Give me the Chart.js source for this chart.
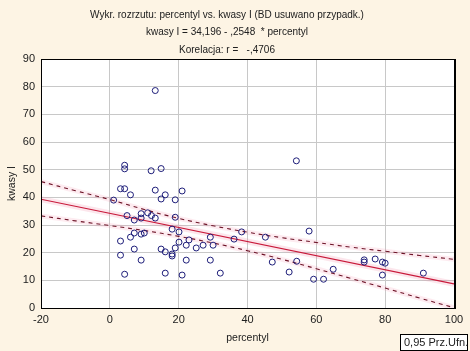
<!DOCTYPE html>
<html>
<head>
<meta charset="utf-8">
<script src="https://cdn.jsdelivr.net/npm/chart.js@4.4.1/dist/chart.umd.min.js"></script>
<style>
  body { margin: 0; background: #fdf4e4; }
  #wrap { width: 470px; height: 351px; position: relative; }
</style>
</head>
<body>
<div id="wrap"><canvas id="scatterChart" width="470" height="351"></canvas></div>
<script>
//=====================================
// dane
//=====================================
var percentyl = [1.1, 3.1, 4.3, 6.0, 4.3, 4.3, 12.0, 14.9, 13.2, 13.2, 14.9, 16.1, 19.0, 21.0,
                 5.0, 7.1, 9.1, 9.1, 11.0, 12.1, 13.2, 19.0, 18.1, 20.1, 20.1, 23.0, 22.2, 25.1,
                 27.1, 29.2, 30.0, 29.2, 32.1, 21.0, 22.2, 16.1, 16.1, 14.9, 18.1, 18.1, 19.0,
                 7.1, 9.1, 4.3, 3.1, 3.1, 6.0, 7.1, 9.1, 10.0, 36.1, 38.3, 45.2, 47.2, 52.1,
                 54.3, 57.9, 59.2, 62.1, 64.9, 73.9, 73.9, 77.1, 79.2, 80.0, 79.2, 91.1, 54.2];
var kwasy = [39.0, 43.1, 43.1, 40.9, 51.6, 50.3, 49.6, 50.4, 78.6, 42.6, 39.4, 40.9, 39.1, 42.3,
             33.4, 31.8, 34.1, 32.5, 34.4, 33.4, 32.5, 32.8, 28.5, 27.5, 23.8, 24.6, 22.7, 21.7,
             22.7, 25.6, 22.7, 17.3, 12.6, 11.9, 17.3, 12.6, 20.3, 21.3, 19.5, 18.8, 21.7,
             21.3, 17.3, 12.2, 19.1, 24.2, 25.6, 27.1, 26.7, 27.1, 24.9, 27.5, 25.6, 16.6, 13.0,
             16.9, 27.8, 10.4, 10.4, 14.0, 17.4, 16.6, 17.7, 16.6, 16.2, 11.9, 12.6, 53.2];

// linia regresji: kwasy I = 34,196 - ,2548 * percentyl
var fitX = [-20, 100];
var fitY = [39.3, 8.7];

// przedział ufności 0,95
var bandX  = [-20, -10, 0, 10, 20, 30, 40, 50, 60, 70, 80, 90, 100];
var bandUp = [45.7, 42.4, 39.2, 35.6, 32.4, 29.7, 27.4, 25.4, 23.7, 22.0, 20.5, 19.0, 17.6];
var bandLo = [33.3, 31.5, 29.8, 28.0, 25.9, 23.5, 20.7, 17.6, 14.2, 10.7, 7.2, 3.6, 0.1];

var xTicks = [-20, 0, 20, 40, 60, 80, 100];
var yTicks = [0, 10, 20, 30, 40, 50, 60, 70, 80, 90];

var titleLines = [
  'Wykr. rozrzutu: percentyl vs. kwasy I (BD usuwano przypadk.)',
  'kwasy I = 34,196 - ,2548  * percentyl',
  'Korelacja: r =   -,4706'
];

function toXY(xs, ys) {
  var out = [];
  for (var i = 0; i < xs.length; i++) out.push({x: xs[i], y: ys[i]});
  return out;
}

var FONT = "'Liberation Sans', Arial, sans-serif";

// białe tło obszaru wykresu
var bgPlugin = {
  id: 'areaBg',
  beforeDraw: function(chart) {
    var a = chart.chartArea, ctx = chart.ctx;
    ctx.save();
    ctx.fillStyle = '#ffffff';
    ctx.fillRect(a.left, a.top, a.right - a.left, a.bottom - a.top);
    ctx.restore();
  }
};

// ramka wokół obszaru wykresu + legenda
var framePlugin = {
  id: 'frame',
  afterDraw: function(chart) {
    var a = chart.chartArea, ctx = chart.ctx;
    ctx.save();
    ctx.strokeStyle = '#000000';
    ctx.lineWidth = 1;
    ctx.strokeRect(a.left + 0.5, a.top + 0.5, a.right - a.left, a.bottom - a.top);
    ctx.beginPath();
    ctx.moveTo(a.right + 1.5, a.top);
    ctx.lineTo(a.right + 1.5, a.bottom + 1);
    ctx.stroke();
    // legenda
    ctx.fillStyle = '#ffffff';
    ctx.fillRect(400, 334, 68, 16);
    ctx.strokeRect(400.5, 334.5, 67, 16);
    ctx.fillStyle = '#202020';
    ctx.font = '11px ' + FONT;
    ctx.textBaseline = 'middle';
    ctx.textAlign = 'left';
    ctx.fillText('0,95 Prz.Ufn.', 404, 343);
    ctx.restore();
  }
};

var ctx = document.getElementById('scatterChart');
var chart = new Chart(ctx, {
  type: 'scatter',
  data: {
    datasets: [
      { // poświata
        type: 'line', data: toXY(fitX, fitY), borderColor: 'rgba(240,130,160,0.2)',
        borderWidth: 6, pointRadius: 0, fill: false, order: 5
      },
      {
        type: 'line', data: toXY(bandX, bandUp), borderColor: 'rgba(240,130,160,0.16)',
        borderWidth: 5, pointRadius: 0, fill: false, tension: 0.4, order: 5
      },
      {
        type: 'line', data: toXY(bandX, bandLo), borderColor: 'rgba(240,130,160,0.16)',
        borderWidth: 5, pointRadius: 0, fill: false, tension: 0.4, order: 5
      },
      {
        type: 'line', label: 'regresja', data: toXY(fitX, fitY), borderColor: '#c8193a',
        borderWidth: 1.1, pointRadius: 0, fill: false, order: 2
      },
      {
        type: 'line', label: 'górny', data: toXY(bandX, bandUp), borderColor: '#6e1428',
        borderWidth: 1.1, borderDash: [4, 4], pointRadius: 0, fill: false, tension: 0.4, order: 2
      },
      {
        type: 'line', label: 'dolny', data: toXY(bandX, bandLo), borderColor: '#6e1428',
        borderWidth: 1.1, borderDash: [4, 4], pointRadius: 0, fill: false, tension: 0.4, order: 2
      },
      {
        label: 'kwasy I', data: toXY(percentyl, kwasy),
        pointStyle: 'circle', pointRadius: 3, borderWidth: 1,
        borderColor: '#1e1e7a', backgroundColor: 'rgba(0,0,0,0)', order: 1
      }
    ]
  },
  options: {
    responsive: false,
    animation: false,
    events: [],
    layout: { padding: { right: 16, left: 0, top: 0, bottom: 0 } },
    plugins: {
      legend: { display: false },
      tooltip: { enabled: false },
      title: {
        display: true,
        text: titleLines,
        color: '#202020',
        font: { family: FONT, size: 10, weight: 'normal', lineHeight: 1.75 },
        padding: { top: 6.25, bottom: 0.25 }
      }
    },
    scales: {
      x: {
        type: 'linear', min: -20, max: 100,
        afterBuildTicks: function(s) { s.ticks = xTicks.map(function(v) { return {value: v}; }); },
        afterFit: function(s) { s.height = 43; },
        ticks: { color: '#202020', padding: 5, font: { family: FONT, size: 11 } },
        grid: { color: '#c8c8c8', drawTicks: false },
        border: { display: false },
        title: {
          display: true, text: 'percentyl', color: '#202020',
          font: { family: FONT, size: 10.5 }, padding: { bottom: 6.5, top: 0 }
        }
      },
      y: {
        type: 'linear', min: 0, max: 90,
        afterBuildTicks: function(s) { s.ticks = yTicks.map(function(v) { return {value: v}; }); },
        afterFit: function(s) { s.width = 41; },
        ticks: { color: '#202020', padding: 6, font: { family: FONT, size: 11 } },
        grid: { color: '#c8c8c8', drawTicks: false },
        border: { display: false },
        title: {
          display: true, text: 'kwasy I', color: '#202020',
          font: { family: FONT, size: 10.5 }, padding: { top: 6, bottom: 0 }
        }
      }
    }
  },
  plugins: [bgPlugin, framePlugin]
});
</script>
</body>
</html>
